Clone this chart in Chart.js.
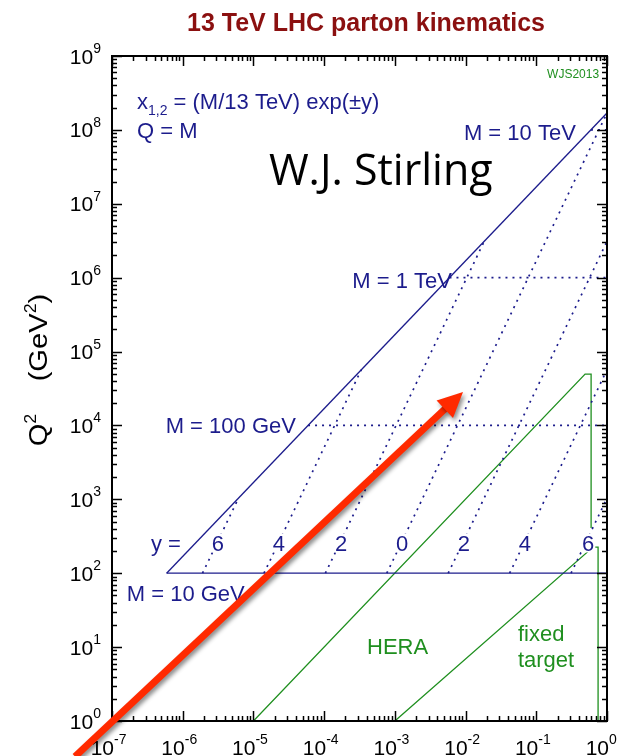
<!DOCTYPE html>
<html>
<head>
<meta charset="utf-8">
<script src="https://cdn.jsdelivr.net/npm/chart.js@4.4.1/dist/chart.umd.min.js"></script>
<style>
html,body{margin:0;padding:0;background:#ffffff;}
canvas{display:block;}
</style>
</head>
<body>
<canvas id="chart" width="621" height="756"></canvas>
<script>
// ---------- tick labels (powers of ten) ----------
const xTickExponents = [-7, -6, -5, -4, -3, -2, -1, 0];
const yTickExponents = [0, 1, 2, 3, 4, 5, 6, 7, 8, 9];
const minorMultipliers = [2, 3, 4, 5, 6, 7, 8, 9];

// ---------- kinematic limit and fixed-mass lines (x, Q^2) ----------
const kinematicLimit = [{x: 5.92e-7, y: 1e2}, {x: 1, y: 1.69e8}];
const mass10GeV  = [{x: 5.92e-7, y: 1e2}, {x: 1, y: 1e2}];
const mass100GeV = [{x: 5.92e-5, y: 1e4}, {x: 1, y: 1e4}];
const mass1TeV   = [{x: 5.92e-3, y: 1e6}, {x: 1, y: 1e6}];
const mass10TeV  = [{x: 0.592,   y: 1e8}, {x: 1, y: 1e8}];

// ---------- constant-rapidity lines ----------
const rapidityLabels  = ['6', '4', '2', '0', '2', '4', '6'];
const rapidityStartX  = [1.906e-6, 1.409e-5, 1.041e-4, 7.69e-4, 5.683e-3, 4.199e-2, 0.3103];
const rapidityStartQ2 = [1e2, 1e2, 1e2, 1e2, 1e2, 1e2, 1e2];
const rapidityEndX    = [6.144e-6, 3.355e-4, 1.832e-2, 1, 1, 1, 1];
const rapidityEndQ2   = [1038, 5.67e4, 3.096e6, 1.69e8, 3.096e6, 5.67e4, 1038];

// ---------- HERA and fixed-target reach ----------
const heraBoundary        = [{x: 1e-5, y: 1}, {x: 0.49, y: 4.96e4}, {x: 0.596, y: 4.96e4}, {x: 0.596, y: 409}];
const fixedTargetBoundary = [{x: 1e-3, y: 1}, {x: 0.635, y: 226}, {x: 0.748, y: 226}, {x: 0.748, y: 1}];

// ---------- arrow annotation (data coordinates) ----------
const arrowFrom = {x: 3.0e-8, y: 0.33};
const arrowTo   = {x: 9.2e-3, y: 2.83e4};

// ---------- styling / layout ----------
const NAVY = '#1c1c8c';
const GREEN = '#1f8f1f';
const RED = '#ff2a00';
const FONT = '"Liberation Sans", Arial, Helvetica, sans-serif';

function seg(data, color, dashed) {
  return {
    data: data,
    showLine: true,
    borderColor: color,
    backgroundColor: color,
    borderWidth: dashed ? 1.7 : 1.3,
    borderDash: dashed ? [2, 5] : [],
    pointRadius: 0,
    pointHoverRadius: 0,
    fill: false,
    tension: 0
  };
}

const datasets = [
  seg(kinematicLimit, NAVY, false),
  seg(mass10GeV, NAVY, false),
  seg(mass100GeV, NAVY, true),
  seg(mass1TeV, NAVY, true),
  seg(mass10TeV, NAVY, true)
];
rapidityStartX.forEach((x0, i) => {
  datasets.push(seg([{x: x0, y: rapidityStartQ2[i]}, {x: rapidityEndX[i], y: rapidityEndQ2[i]}], NAVY, true));
});
datasets.push(seg(heraBoundary, GREEN, false));
datasets.push(seg(fixedTargetBoundary, GREEN, false));

// text annotations: positions as fractions of the plot area (centre line), sizes in px
const rapidityLabelFx = [0.214, 0.337, 0.463, 0.586, 0.711, 0.834, 0.962];
const annotations = [
  {parts: [{t: 'x'}, {t: '1,2', s: 0.62, dy: 6}, {t: ' = (M/13 TeV) exp(\u00b1y)'}], fx: 0.0505, fy: 0.0677, align: 'left', color: NAVY, size: 22},
  {parts: [{t: 'Q = M'}], fx: 0.0505, fy: 0.111, align: 'left', color: NAVY, size: 22},
  {parts: [{t: 'M = 10 TeV'}], fx: 0.937, fy: 0.114, align: 'right', color: NAVY, size: 22},
  {parts: [{t: 'W.J. Stirling'}], fx: 0.543, fy: 0.171, align: 'center', color: '#000000', size: 43, family: '"Open Sans", "Noto Sans", sans-serif'},
  {parts: [{t: 'M = 1 TeV'}], fx: 0.586, fy: 0.337, align: 'center', color: NAVY, size: 22},
  {parts: [{t: 'M = 100 GeV'}], fx: 0.240, fy: 0.555, align: 'center', color: NAVY, size: 22},
  {parts: [{t: 'y ='}], fx: 0.109, fy: 0.732, align: 'center', color: NAVY, size: 22},
  {parts: [{t: 'M = 10 GeV'}], fx: 0.149, fy: 0.808, align: 'center', color: NAVY, size: 22},
  {parts: [{t: 'WJS2013'}], fx: 0.984, fy: 0.027, align: 'right', color: GREEN, size: 12},
  {parts: [{t: 'HERA'}], fx: 0.577, fy: 0.887, align: 'center', color: GREEN, size: 22},
  {parts: [{t: 'fixed'}], fx: 0.820, fy: 0.868, align: 'left', color: GREEN, size: 22},
  {parts: [{t: 'target'}], fx: 0.820, fy: 0.907, align: 'left', color: GREEN, size: 22}
];
rapidityLabels.forEach((lab, i) => {
  annotations.push({parts: [{t: lab}], fx: rapidityLabelFx[i], fy: 0.732, align: 'center', color: NAVY, size: 22, bg: true});
});

function drawRich(ctx, parts, x, y, align, color, size, family, bg) {
  family = family || FONT;
  let total = 0;
  parts.forEach(p => {
    ctx.font = (p.bold ? 'bold ' : '') + Math.round(size * (p.s || 1)) + 'px ' + family;
    p._w = ctx.measureText(p.t).width;
    total += p._w;
  });
  let cx = align === 'center' ? x - total / 2 : (align === 'right' ? x - total : x);
  if (bg) {
    ctx.fillStyle = '#ffffff';
    ctx.fillRect(cx - 1, y - size * 0.78, total + 2, size * 0.86);
  }
  ctx.fillStyle = color;
  ctx.textAlign = 'left';
  ctx.textBaseline = 'alphabetic';
  parts.forEach(p => {
    ctx.font = (p.bold ? 'bold ' : '') + Math.round(size * (p.s || 1)) + 'px ' + family;
    ctx.fillText(p.t, cx, y + (p.dy || 0));
    cx += p._w;
  });
  return total;
}

const overlay = {
  id: 'overlay',
  afterDraw(chart) {
    const ctx = chart.ctx;
    const a = chart.chartArea;
    const sx = chart.scales.x, sy = chart.scales.y;
    const W = a.right - a.left, H = a.bottom - a.top;
    ctx.save();

    // annotations
    annotations.forEach(an => {
      const px = a.left + an.fx * W;
      const py = a.top + an.fy * H + 0.36 * an.size;
      drawRich(ctx, an.parts, px, py, an.align, an.color, an.size, an.family, an.bg);
    });

    // ticks (inward, on all four sides)
    const MAJ = 10, MIN = 5;
    ctx.strokeStyle = '#000';
    ctx.lineWidth = 1.5;
    ctx.beginPath();
    const xMaxE = Math.max(...xTickExponents);
    xTickExponents.forEach(e => {
      const vals = [Math.pow(10, e)];
      if (e < xMaxE) minorMultipliers.forEach(m => vals.push(m * Math.pow(10, e)));
      vals.forEach((v, i) => {
        const px = Math.round(sx.getPixelForValue(v)) + 0.5;
        const L = i === 0 ? MAJ : MIN;
        ctx.moveTo(px, a.bottom); ctx.lineTo(px, a.bottom - L);
        ctx.moveTo(px, a.top); ctx.lineTo(px, a.top + L);
      });
    });
    const yMaxE = Math.max(...yTickExponents);
    yTickExponents.forEach(e => {
      const vals = [Math.pow(10, e)];
      if (e < yMaxE) minorMultipliers.forEach(m => vals.push(m * Math.pow(10, e)));
      vals.forEach((v, i) => {
        const py = Math.round(sy.getPixelForValue(v)) + 0.5;
        const L = i === 0 ? MAJ : MIN;
        ctx.moveTo(a.left, py); ctx.lineTo(a.left + L, py);
        ctx.moveTo(a.right, py); ctx.lineTo(a.right - L, py);
      });
    });
    ctx.stroke();
    ctx.lineWidth = 2;
    ctx.strokeRect(a.left, a.top, W, H);

    // tick labels
    xTickExponents.forEach(e => {
      const px = sx.getPixelForValue(Math.pow(10, e));
      ctx.font = '21px ' + FONT;
      const w10 = ctx.measureText('10').width;
      ctx.fillStyle = '#000';
      ctx.textAlign = 'left';
      ctx.textBaseline = 'alphabetic';
      ctx.fillText('10', px + 2 - w10, 755);
      ctx.font = '14px ' + FONT;
      ctx.fillText(String(e), px + 2, 744);
    });
    yTickExponents.forEach(e => {
      const py = sy.getPixelForValue(Math.pow(10, e));
      ctx.font = '14px ' + FONT;
      const ws = ctx.measureText(String(e)).width;
      ctx.font = '21px ' + FONT;
      const w10 = ctx.measureText('10').width;
      ctx.fillStyle = '#000';
      ctx.textAlign = 'left';
      ctx.fillText('10', 101 - ws - w10, py + 7.5);
      ctx.font = '14px ' + FONT;
      ctx.fillText(String(e), 101 - ws, py - 3);
    });

    // axis title (slightly elongated along its reading direction, as in the source)
    ctx.save();
    ctx.translate(38, 370);
    ctx.rotate(-Math.PI / 2);
    ctx.scale(1.12, 1);
    drawRich(ctx, [{t: 'Q'}, {t: '2', s: 0.6, dy: -11}, {t: '    (GeV'}, {t: '2', s: 0.6, dy: -11}, {t: ')'}], 0, 9, 'center', '#000', 26);
    ctx.restore();

    // title
    ctx.font = 'bold 25px ' + FONT;
    ctx.fillStyle = '#8b1010';
    ctx.textAlign = 'center';
    ctx.fillText('13 TeV LHC parton kinematics', 366, 31);

    // red arrow
    const x0 = sx.getPixelForValue(arrowFrom.x), y0 = sy.getPixelForValue(arrowFrom.y);
    const x1 = sx.getPixelForValue(arrowTo.x), y1 = sy.getPixelForValue(arrowTo.y);
    const ang = Math.atan2(y1 - y0, x1 - x0);
    const headLen = 25, headW = 12;
    const bx = x1 - headLen * Math.cos(ang), by = y1 - headLen * Math.sin(ang);
    ctx.shadowColor = 'rgba(0,0,0,0.45)';
    ctx.shadowBlur = 4;
    ctx.shadowOffsetX = 2;
    ctx.shadowOffsetY = 3;
    ctx.strokeStyle = RED;
    ctx.fillStyle = RED;
    ctx.lineWidth = 7;
    ctx.beginPath();
    ctx.moveTo(x0, y0);
    ctx.lineTo(bx + 2 * Math.cos(ang), by + 2 * Math.sin(ang));
    ctx.stroke();
    ctx.beginPath();
    ctx.moveTo(x1, y1);
    ctx.lineTo(bx + headW * Math.sin(ang), by - headW * Math.cos(ang));
    ctx.lineTo(bx - headW * Math.sin(ang), by + headW * Math.cos(ang));
    ctx.closePath();
    ctx.fill();
    ctx.restore();
  }
};

new Chart(document.getElementById('chart'), {
  type: 'scatter',
  data: {datasets: datasets},
  options: {
    responsive: false,
    animation: false,
    devicePixelRatio: 1,
    layout: {padding: {left: 112, right: 14, top: 56, bottom: 35}},
    plugins: {legend: {display: false}, tooltip: {enabled: false}, title: {display: false}},
    scales: {
      x: {type: 'logarithmic', min: 1e-7, max: 1, grid: {display: false, drawTicks: false}, border: {display: false}, ticks: {display: false}},
      y: {type: 'logarithmic', min: 1, max: 1e9, grid: {display: false, drawTicks: false}, border: {display: false}, ticks: {display: false}}
    }
  },
  plugins: [overlay]
});
</script>
</body>
</html>
